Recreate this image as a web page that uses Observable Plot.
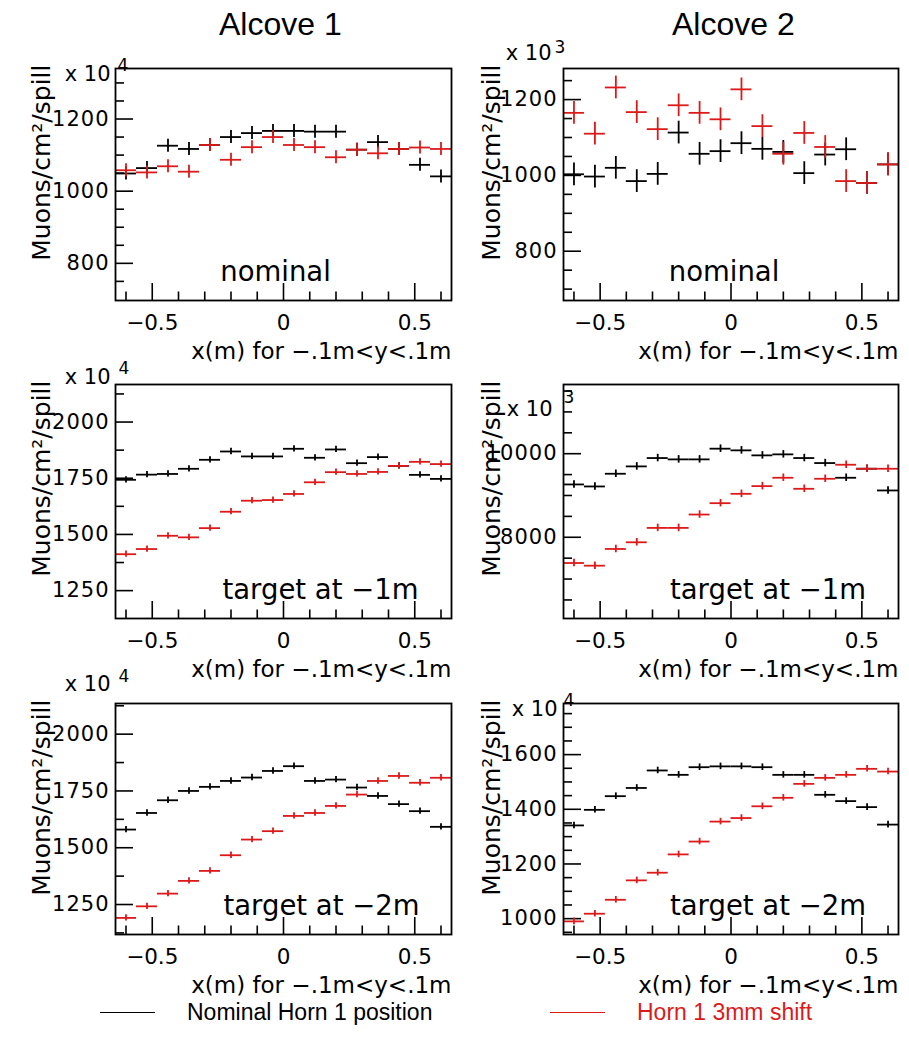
<!DOCTYPE html>
<html><head><meta charset="utf-8">
<script src="https://cdn.jsdelivr.net/npm/d3@7"></script>
<script src="https://cdn.jsdelivr.net/npm/@observablehq/plot@0.6"></script>
<style>
body{margin:0;background:#fff;}
#root{position:relative;width:909px;height:1053px;overflow:hidden;background:#fff;font-family:"DejaVu Sans",sans-serif;}
.panel{position:absolute;}
.panel svg{overflow:visible;display:block;}
.panel svg g[aria-label="y-axis tick label"] text{letter-spacing:1px;}
.title{position:absolute;font-family:"Liberation Sans",Arial,sans-serif;font-size:32px;color:#000;white-space:nowrap;}
.leg{position:absolute;font-family:"Liberation Sans",Arial,sans-serif;font-size:23px;white-space:nowrap;line-height:1;}
.legline{position:absolute;height:0;border-top:1.6px solid;}
</style></head><body><div id="root"></div>
<script>
// ---- data ----
const xCenters = [-0.60,-0.52,-0.44,-0.36,-0.28,-0.20,-0.12,-0.04,0.04,0.12,0.20,0.28,0.36,0.44,0.52,0.60];
const binHalfWidth = 0.04;

const a1NominalBlack = [1049,1064,1126,1117,1128,1150,1161,1167,1167,1165,1165,1115,1136,1117,1073,1041];
const a1NominalRed   = [1058,1052,1069,1054,1128,1087,1122,1150,1128,1122,1094,1115,1105,1117,1121,1117];
const a2NominalBlack = [1003,997,1020,985,1004,1113,1057,1064,1085,1070,1062,1006,1055,1069,980,1029];
const a2NominalRed   = [1165,1110,1232,1167,1122,1185,1165,1148,1227,1130,1057,1112,1075,985,980,1029];
const a1T1Black = [1743,1766,1769,1792,1832,1869,1847,1847,1881,1841,1878,1817,1844,1805,1765,1747];
const a1T1Red   = [1412,1435,1494,1487,1528,1601,1650,1653,1680,1732,1777,1769,1778,1805,1823,1813];
const a2T1Black = [9264,9216,9520,9696,9896,9864,9864,10120,10080,9960,9984,9896,9776,9424,9640,9120];
const a2T1Red   = [7384,7320,7720,7880,8224,8224,8544,8816,9040,9224,9424,9160,9400,9736,9640,9640];
const a1T2Black = [1580,1653,1709,1750,1768,1794,1809,1838,1859,1794,1800,1765,1728,1692,1661,1592];
const a1T2Red   = [1191,1242,1298,1354,1398,1467,1536,1573,1640,1653,1684,1734,1794,1816,1786,1808];
const a2T2Black = [1341,1398,1448,1478,1542,1526,1554,1557,1557,1554,1526,1526,1453,1430,1408,1344];
const a2T2Red   = [990,1018,1069,1140,1168,1235,1282,1355,1368,1411,1442,1493,1515,1526,1548,1538];

// half-length of vertical error bars per panel
const errHalf = [18, 30, 14, 90, 14, 12];

const xMajorTicks = [-0.5, 0, 0.5];
const xTickLabels = ["\u22120.5", "0", "0.5"];
const xMinorTicks = [-0.6,-0.4,-0.3,-0.2,-0.1,0.1,0.2,0.3,0.4,0.6];

const yMajor = [[800,1000,1200],[800,1000,1200],[1250,1500,1750,2000],[8000,10000],[1250,1500,1750,2000],[1000,1200,1400,1600]];
const yMinor = [
  [750,850,900,950,1050,1100,1150,1250,1300],
  [700,750,850,900,950,1050,1100,1150,1250],
  [1375,1625,1875,2125],
  [6500,7000,7500,8500,9000,9500,10500,11000,11500],
  [1125,1375,1625,1875,2125],
  [950,1050,1100,1150,1250,1300,1350,1450,1500,1550,1650,1700,1750]
];
const yDomains = [[697,1340],[670,1282],[1126,2167],[6056,11656],[1118,2135],[942,1787]];
const exponents = ["4","3","4","3","4","4"];
const panelLabels = ["nominal","nominal","target at \u22121m","target at \u22121m","target at \u22122m","target at \u22122m"];
const columnTitles = ["Alcove 1","Alcove 2"];
const yLabel = "Muons/cm\u00b2/spill";
const xLabel = "x(m) for \u2212.1m<y<.1m";
const seriesNames = ["Nominal Horn 1 position","Horn 1 3mm shift"];

const series = [
  [a1NominalBlack, a1NominalRed],
  [a2NominalBlack, a2NominalRed],
  [a1T1Black, a1T1Red],
  [a2T1Black, a2T1Red],
  [a1T2Black, a1T2Red],
  [a2T2Black, a2T2Red]
];

// ---- layout ----
const BLACK = "#000", RED = "#dc1a1a";
const cols = [{left:0,width:455,ml:115,mr:4},{left:450,width:455,ml:113,mr:7}];
const rows = [{top:40,height:330,mt:28,mb:70},{top:360,height:330,mt:24,mb:72},{top:680,height:320,mt:23,mb:66}];
const expPos = [
  [[-5,12],[2,2]],
  [[-12,-9],[-9,-16]],
  [[-5,-1],[3,-11]],
  [[-11,31],[0,18]],
  [[-5,-13],[3,-22]],
  [[-6,12],[0,2]]
];
const labelDx = [-8,-7,37,37,38,37];

const root = document.getElementById("root");

function makePanel(i) {
  const c = cols[i % 2], r = rows[Math.floor(i / 2)];
  const fw = c.width - c.ml - c.mr, fh = r.height - r.mt - r.mb;
  const [blk, red] = series[i];
  const e = errHalf[i];
  const ptsB = xCenters.map((x, k) => ({x, y: blk[k]}));
  const ptsR = xCenters.map((x, k) => ({x, y: red[k]}));
  const cross = (pts, color) => [
    Plot.ruleY(pts, {y: "y", x1: d => d.x - binHalfWidth, x2: d => d.x + binHalfWidth, stroke: color, strokeWidth: 1.8}),
    Plot.ruleX(pts, {x: "x", y1: d => d.y - e, y2: d => d.y + e, stroke: color, strokeWidth: 1.8})
  ];
  const svg = Plot.plot({
    width: c.width, height: r.height,
    marginLeft: c.ml, marginRight: c.mr, marginTop: r.mt, marginBottom: r.mb,
    x: {domain: [-0.64, 0.64]},
    y: {domain: yDomains[i]},
    style: {fontFamily: "DejaVu Sans", fontSize: "20px", background: "transparent", color: "#000", overflow: "visible"},
    marks: [
      Plot.tickX(xMinorTicks, {x: d => d, insetTop: fh - 8.5, stroke: BLACK, strokeWidth: 1.6}),
      Plot.tickX(xMajorTicks, {x: d => d, insetTop: fh - 17, stroke: BLACK, strokeWidth: 1.6}),
      Plot.tickY(yMinor[i], {y: d => d, insetRight: fw - 9, stroke: BLACK, strokeWidth: 1.6}),
      Plot.tickY(yMajor[i], {y: d => d, insetRight: fw - 18, stroke: BLACK, strokeWidth: 1.6}),
      Plot.axisX({ticks: xMajorTicks, tickSize: 0, tickPadding: 14, fontSize: 21.5, tickFormat: (d) => xTickLabels[xMajorTicks.indexOf(d)], label: null}),
      Plot.axisY({ticks: yMajor[i], tickSize: 0, tickPadding: 6, fontSize: 21, tickFormat: d => String(d), label: null}),
      ...cross(ptsB, BLACK),
      ...cross(ptsR, RED),
      Plot.frame({stroke: BLACK, strokeWidth: 1.8}),
      Plot.text([panelLabels[i]], {text: d => d, frameAnchor: "bottom", lineAnchor: "bottom", dx: labelDx[i], dy: -20, fontSize: 27.5}),
      Plot.text([xLabel], {text: d => d, frameAnchor: "bottom-right", textAnchor: "end", lineAnchor: "bottom", dy: 58, fontSize: 23}),
      Plot.text([yLabel], {text: d => d, frameAnchor: "top-left", textAnchor: "end", rotate: -90, dx: i % 2 ? -81 : -83, dy: -4, fontSize: 25}),
      Plot.text(["x 10"], {text: d => d, frameAnchor: "top-left", textAnchor: "end", lineAnchor: "bottom", dx: expPos[i][0][0], dy: expPos[i][0][1], fontSize: 21}),
      Plot.text([exponents[i]], {text: d => d, frameAnchor: "top-left", textAnchor: "start", lineAnchor: "bottom", dx: expPos[i][1][0], dy: expPos[i][1][1], fontSize: 17})
    ]
  });
  const div = document.createElement("div");
  div.className = "panel";
  div.style.left = c.left + "px";
  div.style.top = r.top + "px";
  div.appendChild(svg);
  root.appendChild(div);
}
for (let i = 0; i < 6; i++) makePanel(i);

// column titles
[[219, 6], [672, 6]].forEach(([l, t], k) => {
  const d = document.createElement("div");
  d.className = "title";
  d.style.left = l + "px"; d.style.top = t + "px";
  d.textContent = columnTitles[k];
  root.appendChild(d);
});

// legend
const legItems = [
  {color: BLACK, lineL: 100, lineR: 155, textL: 187},
  {color: RED, lineL: 550, lineR: 605, textL: 637}
];
legItems.forEach((it, k) => {
  const ln = document.createElement("div");
  ln.className = "legline";
  ln.style.left = it.lineL + "px"; ln.style.width = (it.lineR - it.lineL) + "px";
  ln.style.top = "1012px"; ln.style.borderColor = it.color;
  root.appendChild(ln);
  const tx = document.createElement("div");
  tx.className = "leg";
  tx.style.left = it.textL + "px"; tx.style.top = "1001px"; tx.style.color = it.color;
  tx.textContent = seriesNames[k];
  root.appendChild(tx);
});
</script></body></html>
